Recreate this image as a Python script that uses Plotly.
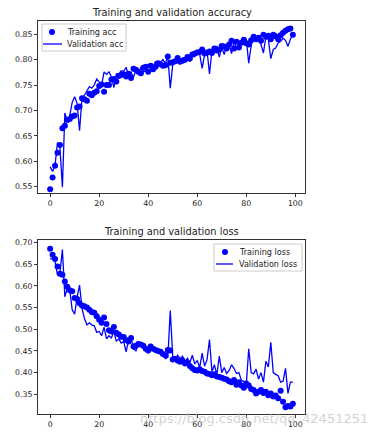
import plotly.graph_objects as go

epochs = list(range(100))

train_acc = [0.545, 0.568, 0.591, 0.617, 0.632, 0.665, 0.670, 0.681, 0.683, 0.688,
             0.690, 0.706, 0.708, 0.724, 0.722, 0.719, 0.733, 0.730, 0.735, 0.738,
             0.748, 0.751, 0.737, 0.750, 0.750, 0.761, 0.762, 0.757, 0.768, 0.770,
             0.771, 0.767, 0.772, 0.764, 0.782, 0.780, 0.776, 0.773, 0.784, 0.786,
             0.776, 0.788, 0.781, 0.786, 0.793, 0.791, 0.788, 0.789, 0.806, 0.794,
             0.795, 0.797, 0.803, 0.796, 0.798, 0.800, 0.805, 0.802, 0.810, 0.812,
             0.814, 0.815, 0.820, 0.812, 0.814, 0.816, 0.813, 0.822, 0.818, 0.820,
             0.827, 0.826, 0.822, 0.830, 0.837, 0.822, 0.835, 0.824, 0.833, 0.839,
             0.832, 0.830, 0.838, 0.845, 0.840, 0.843, 0.837, 0.849, 0.845, 0.847,
             0.840, 0.849, 0.846, 0.840, 0.848, 0.853, 0.857, 0.860, 0.861, 0.849]

val_acc = [0.589, 0.580, 0.592, 0.637, 0.627, 0.549, 0.695, 0.680, 0.690, 0.716,
           0.727, 0.714, 0.660, 0.725, 0.730, 0.740, 0.747, 0.744, 0.750, 0.762,
           0.756, 0.750, 0.776, 0.771, 0.776, 0.766, 0.745, 0.772, 0.772, 0.778,
           0.777, 0.785, 0.768, 0.775, 0.765, 0.780, 0.772, 0.785, 0.776, 0.778,
           0.791, 0.783, 0.786, 0.797, 0.786, 0.795, 0.800, 0.792, 0.807, 0.744,
           0.790, 0.800, 0.806, 0.799, 0.803, 0.801, 0.805, 0.796, 0.810, 0.806,
           0.818, 0.811, 0.783, 0.810, 0.818, 0.772, 0.818, 0.823, 0.826, 0.805,
           0.825, 0.810, 0.828, 0.830, 0.812, 0.836, 0.822, 0.831, 0.839, 0.830,
           0.840, 0.793, 0.828, 0.843, 0.836, 0.847, 0.831, 0.813, 0.846, 0.840,
           0.802, 0.820, 0.823, 0.833, 0.836, 0.842, 0.838, 0.826, 0.840, 0.849]

train_loss = [0.686, 0.672, 0.662, 0.645, 0.628, 0.626, 0.610, 0.598, 0.590, 0.588,
              0.572, 0.570, 0.560, 0.555, 0.553, 0.550, 0.545, 0.540, 0.538, 0.530,
              0.522, 0.515, 0.527, 0.512, 0.498, 0.495, 0.505, 0.492, 0.488, 0.483,
              0.482, 0.475, 0.472, 0.480, 0.460, 0.462, 0.466, 0.465, 0.462, 0.455,
              0.451, 0.460, 0.455, 0.452, 0.450, 0.448, 0.443, 0.440, 0.452, 0.451,
              0.430, 0.432, 0.428, 0.425, 0.428, 0.421, 0.422, 0.415, 0.410, 0.406,
              0.405, 0.408, 0.404, 0.402, 0.398, 0.397, 0.394, 0.396, 0.391, 0.390,
              0.388, 0.386, 0.384, 0.380, 0.378, 0.383, 0.372, 0.378, 0.370, 0.365,
              0.375, 0.370, 0.362, 0.360, 0.352, 0.356, 0.360, 0.353, 0.356, 0.348,
              0.352, 0.345, 0.347, 0.341, 0.358, 0.333, 0.320, 0.323, 0.322, 0.328]

val_loss = [0.663, 0.662, 0.658, 0.625, 0.630, 0.684, 0.575, 0.595, 0.590, 0.545,
            0.535, 0.575, 0.602, 0.548, 0.525, 0.510, 0.515, 0.510, 0.508, 0.493,
            0.495, 0.485, 0.505, 0.478, 0.485, 0.480, 0.496, 0.472, 0.478, 0.468,
            0.472, 0.448, 0.475, 0.480, 0.455, 0.450, 0.470, 0.462, 0.455, 0.462,
            0.445, 0.466, 0.453, 0.456, 0.448, 0.452, 0.440, 0.432, 0.435, 0.543,
            0.437, 0.428, 0.440, 0.432, 0.438, 0.425, 0.433, 0.423, 0.440, 0.420,
            0.428, 0.412, 0.445, 0.415, 0.430, 0.476, 0.402, 0.418, 0.395, 0.438,
            0.400, 0.412, 0.398, 0.405, 0.418, 0.410, 0.398, 0.400, 0.382, 0.380,
            0.372, 0.455, 0.400, 0.397, 0.408, 0.385, 0.400, 0.378, 0.426, 0.413,
            0.470, 0.400, 0.396, 0.393, 0.378, 0.380, 0.410, 0.352, 0.378, 0.378]

x_ticks = [0, 20, 40, 60, 80, 100]
acc_ticks = [0.55, 0.60, 0.65, 0.70, 0.75, 0.80, 0.85]
loss_ticks = [0.35, 0.40, 0.45, 0.50, 0.55, 0.60, 0.65, 0.70]

BLUE = "#0000ff"
FONT = "DejaVu Sans"
TXT = "#222"

W, H = 390, 440
ML, MR, MT, MB = 38, 85, 21, 26
PW, PH = W - ML - MR, H - MT - MB


def px(xp):
    return (xp - ML) / PW


def py(yp):
    return (H - MB - yp) / PH


fig = go.Figure()
fig.add_trace(go.Scatter(x=epochs, y=train_acc, mode="markers", name="Training acc",
                         marker=dict(color=BLUE, size=6), xaxis="x", yaxis="y"))
fig.add_trace(go.Scatter(x=epochs, y=val_acc, mode="lines", name="Validation acc",
                         line=dict(color=BLUE, width=1.3), xaxis="x", yaxis="y"))
fig.add_trace(go.Scatter(x=epochs, y=train_loss, mode="markers", name="Training loss",
                         marker=dict(color=BLUE, size=6), xaxis="x2", yaxis="y2"))
fig.add_trace(go.Scatter(x=epochs, y=val_loss, mode="lines", name="Validation loss",
                         line=dict(color=BLUE, width=1.3), xaxis="x2", yaxis="y2"))

axis_style = dict(showline=True, mirror=True, linecolor="#333", linewidth=1,
                  ticks="outside", ticklen=3, tickwidth=1, tickcolor="#333",
                  showgrid=False, zeroline=False,
                  tickfont=dict(family=FONT, size=7.8, color=TXT))

shapes = []
annotations = []


def add_legend(x0, y0, x1, y1, mx, lx0, lx1, tx, r1, r2, lab1, lab2):
    shapes.append(dict(type="rect", xref="paper", yref="paper",
                       x0=px(x0), x1=px(x1), y0=py(y1), y1=py(y0),
                       line=dict(color="#cccccc", width=1), fillcolor="rgba(255,255,255,0.8)",
                       layer="above"))
    shapes.append(dict(type="circle", xref="paper", yref="paper",
                       x0=px(mx - 3), x1=px(mx + 3), y0=py(r1 + 3), y1=py(r1 - 3),
                       line=dict(color=BLUE, width=0), fillcolor=BLUE, layer="above"))
    shapes.append(dict(type="line", xref="paper", yref="paper",
                       x0=px(lx0), x1=px(lx1), y0=py(r2), y1=py(r2),
                       line=dict(color=BLUE, width=1.3), layer="above"))
    for lab, r in ((lab1, r1), (lab2, r2)):
        annotations.append(dict(text=lab, xref="paper", yref="paper", x=px(tx), y=py(r),
                                xanchor="left", yanchor="middle", showarrow=False,
                                font=dict(family=FONT, size=8.1, color=TXT)))


add_legend(42, 24, 126, 51, 52, 43, 62, 65, 32, 44, "Training acc", "Validation acc")
add_legend(214, 244, 302, 271, 225, 216, 233, 237, 252, 264, "Training loss", "Validation loss")

annotations += [
    dict(text="Training and validation accuracy", xref="paper", yref="paper",
         x=0.5, y=1.0, yshift=1, xanchor="center", yanchor="bottom", showarrow=False,
         font=dict(family=FONT, size=9.8, color=TXT)),
    dict(text="Training and validation loss", xref="paper", yref="paper",
         x=0.5, y=py(240), yshift=1, xanchor="center", yanchor="bottom", showarrow=False,
         font=dict(family=FONT, size=9.8, color=TXT)),
    dict(text="https://blog.csdn.net/qq_42451251", xref="paper", yref="paper",
         x=px(138), y=py(428), xanchor="left", yanchor="bottom", showarrow=False,
         font=dict(family=FONT, size=13, color="rgba(190,190,190,0.7)")),
]

fig.update_layout(
    width=W, height=H,
    margin=dict(l=ML, r=MR, t=MT, b=MB),
    paper_bgcolor="white", plot_bgcolor="white",
    font=dict(family=FONT, size=7.8, color=TXT),
    showlegend=False,
    xaxis=dict(domain=[0, 1], anchor="y", range=[-4.95, 103.95], tickvals=x_ticks, **axis_style),
    yaxis=dict(domain=[py(193), 1], anchor="x", range=[0.5376, 0.876], tickvals=acc_ticks,
               tickformat=".2f", **axis_style),
    xaxis2=dict(domain=[0, 1], anchor="y2", range=[-4.95, 103.95], tickvals=x_ticks, **axis_style),
    yaxis2=dict(domain=[0, py(240)], anchor="x2", range=[0.3045, 0.706], tickvals=loss_ticks,
                tickformat=".2f", **axis_style),
    shapes=shapes,
    annotations=annotations,
)

fig.write_html("out.html", config={"displayModeBar": False},
               post_script="document.body.style.margin='0';")
